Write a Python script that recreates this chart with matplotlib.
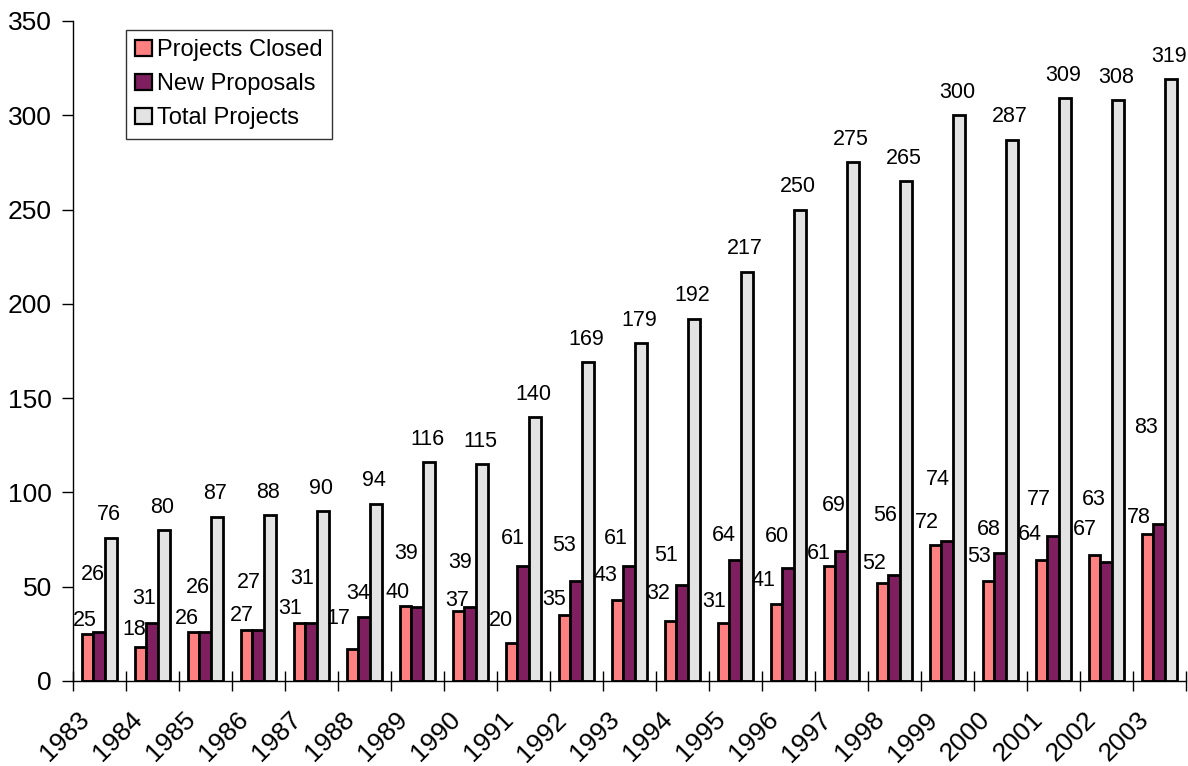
import matplotlib
matplotlib.use("Agg")
import matplotlib.pyplot as plt
import matplotlib.transforms as mtransforms
import numpy as np

years = [str(y) for y in range(1983, 2004)]
projects_closed = [25, 18, 26, 27, 31, 17, 40, 37, 20, 35, 43, 32, 31, 41, 61, 52, 72, 53, 64, 67, 78]
new_proposals = [26, 31, 26, 27, 31, 34, 39, 39, 61, 53, 61, 51, 64, 60, 69, 56, 74, 68, 77, 63, 83]
total_projects = [76, 80, 87, 88, 90, 94, 116, 115, 140, 169, 179, 192, 217, 250, 275, 265, 300, 287, 309, 308, 319]

# label placement (data-unit heights of label centres, and x shifts in px) as in the reference
closed_label_y = [32.3, 27.4, 32.9, 34.5, 38.2, 33.2, 47.0, 42.9, 32.3, 43.3, 55.7, 46.5, 42.1, 53.2, 67.7, 62.4, 83.9, 65.9, 77.9, 80.1, 86.8]
new_label_y = [56.7, 43.5, 49.5, 52.5, 54.1, 46.5, 67.7, 62.7, 75.7, 72.1, 75.7, 66.8, 76.9, 76.5, 93.3, 88.0, 106.6, 80.4, 96.3, 96.3, 134.3]
closed_label_dx = [-2.5, -6.5, -6.8, -4.5, -9.5, -14.5, -7.8, -1.5, -10.5, -10.8, -12.5, -12.8, -9.5, -12.8, -10.5, -8.8, -8.8, -9.8, -11.5, -9.5, -8.8]
new_label_dx = [-6.5, -8.2, -7.2, -9.2, -9.5, -6.5, -11.2, -10.2, -10.5, -12.5, -13.2, -16.2, -11.2, -11.2, -7.2, -9.2, -9.2, -11.5, -14.2, -12.2, -13.2]

series_names = ["Projects Closed", "New Proposals", "Total Projects"]
colors = ["#FF8080", "#801F60", "#E3E3E3"]

plt.rcParams['font.family'] = ['Liberation Sans', 'DejaVu Sans']

W, H = 1188, 766
fig = plt.figure(figsize=(W / 100, H / 100), dpi=100)
ax = fig.add_axes([72.7 / W, (H - 681) / H, (1185.7 - 72.7) / W, (681 - 21) / H])

x = np.arange(len(years))
bw = 0.22
offsets = [-0.22, 0.0, 0.228]
vals = [projects_closed, new_proposals, total_projects]
for off, v, c, n in zip(offsets, vals, colors, series_names):
    ax.bar(x + off, v, width=bw, color=c, edgecolor="black", linewidth=2.0, label=n, zorder=3)

px = 72.0 / 100  # points per pixel
lbl_fs = 15.5
for i in range(len(years)):
    ax.annotate(str(projects_closed[i]), xy=(x[i] + offsets[0], closed_label_y[i]),
                xytext=(closed_label_dx[i] * px, 0), textcoords="offset points",
                ha="center", va="center", fontsize=lbl_fs)
    ax.annotate(str(new_proposals[i]), xy=(x[i] + offsets[1], new_label_y[i]),
                xytext=(new_label_dx[i] * px, 0), textcoords="offset points",
                ha="center", va="center", fontsize=lbl_fs)
    ax.annotate(str(total_projects[i]), xy=(x[i] + offsets[2], total_projects[i]),
                xytext=(-2 * px, 23 * px), textcoords="offset points",
                ha="center", va="center", fontsize=lbl_fs)

ax.set_xlim(-0.5, len(years) - 0.5)
ax.set_ylim(0, 350)
ax.set_yticks(range(0, 351, 50))
ax.tick_params(axis="y", direction="out", length=8, width=1, labelsize=19, pad=7)

ax.set_xticks(x)
ax.set_xticklabels(years, rotation=45, ha="right", va="center", rotation_mode="anchor", fontsize=19)
ax.set_xticks(np.arange(-0.5, len(years), 1.0), minor=True)
ax.tick_params(axis="x", which="major", length=0, pad=0)
ax.tick_params(axis="x", which="minor", direction="inout", length=15, width=1)

offset = mtransforms.ScaledTranslation(-14 / 100, -35 / 100, fig.dpi_scale_trans)
for lab in ax.get_xticklabels():
    lab.set_transform(lab.get_transform() + offset)

for s in ["top", "right"]:
    ax.spines[s].set_visible(False)
for s in ["left", "bottom"]:
    ax.spines[s].set_linewidth(1)
    ax.spines[s].set_zorder(4)

leg = ax.legend(loc="upper left", bbox_to_anchor=(126 / W, 1 - 30 / H), bbox_transform=fig.transFigure,
                borderaxespad=0, fontsize=17, frameon=True, fancybox=False, shadow=False,
                handlelength=0.7, handleheight=0.7, handletextpad=0.2, labelspacing=0.5,
                borderpad=0.4)
leg.get_frame().set_edgecolor("black")
leg.get_frame().set_linewidth(1)
for h in leg.legend_handles:
    h.set_linewidth(1.6)

fig.savefig("out.png", dpi=100)
